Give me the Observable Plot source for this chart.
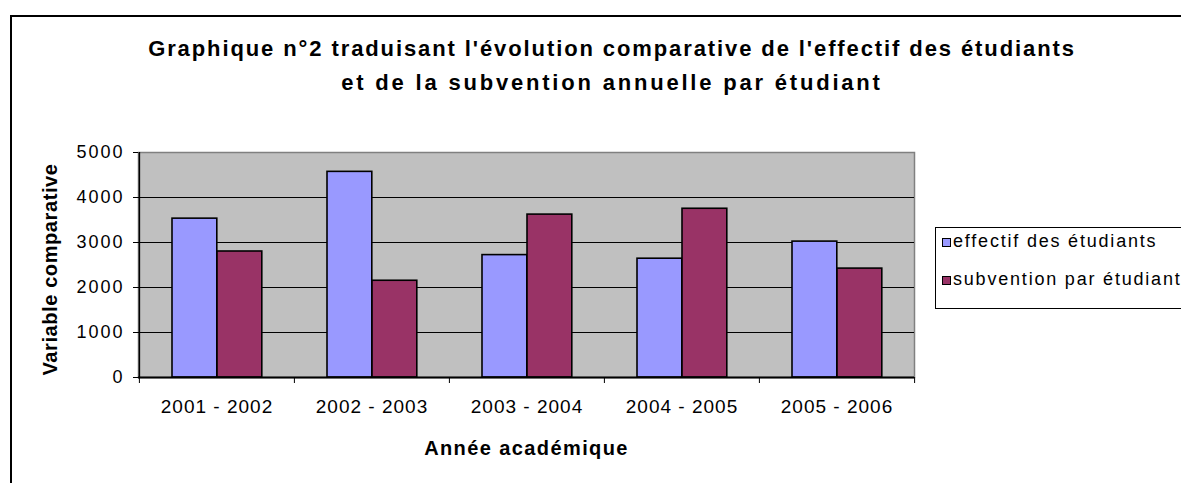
<!DOCTYPE html>
<html>
<head>
<meta charset="utf-8">
<script src="https://cdn.jsdelivr.net/npm/d3@7"></script>
<script src="https://cdn.jsdelivr.net/npm/@observablehq/plot@0.6"></script>
<style>
  html, body { margin: 0; padding: 0; background: #fff; }
  #wrap { position: relative; width: 1181px; height: 483px; overflow: hidden; font-family: "Liberation Sans", Arial, sans-serif; }
  #border { position: absolute; left: 10px; top: 15px; width: 1300px; height: 600px; border: 2px solid #000; box-sizing: border-box; }
  #title { position: absolute; left: 0; top: 32px; width: 1224px; text-align: center; font-weight: bold; font-size: 22px; line-height: 34px; color: #000; }
  #title div:nth-child(1) { letter-spacing: 1.9px; }
  #title div:nth-child(2) { letter-spacing: 2.8px; }
  #chart { position: absolute; left: 0; top: 110px; }
  #legend { position: absolute; left: 935px; top: 227px; width: 300px; height: 82px; border: 1px solid #000; box-sizing: border-box; background: #fff; }
  .item { position: absolute; left: 6px; font-size: 18px; letter-spacing: 1.8px; white-space: nowrap; color: #000; }
  .sw { display: inline-block; width: 7px; height: 7px; border: 1px solid #000; margin-right: 2px; }
  .ch [aria-label="y-axis tick label"] text { letter-spacing: 2px; }
  .ch [aria-label="x-axis tick label"] text { letter-spacing: 1px; }
</style>
</head>
<body>
<div id="wrap">
  <div id="border"></div>
  <div id="title"></div>
  <div id="chart"></div>
  <div id="legend"></div>
</div>
<script>
const titleLines = ["Graphique n°2 traduisant l'évolution comparative de l'effectif des étudiants", "et de la subvention annuelle par étudiant"];
const years = ["2001 - 2002", "2002 - 2003", "2003 - 2004", "2004 - 2005", "2005 - 2006"];
const effectif = [3530, 4570, 2720, 2640, 3020];
const subvention = [2800, 2150, 3620, 3750, 2420];
const yTicks = [0, 1000, 2000, 3000, 4000, 5000];
const seriesNames = ["effectif des étudiants", "subvention par étudiant"];
const colors = ["#9999FF", "#993366"];
const xLabel = "Année académique";
const yLabel = "Variable comparative";

const titleEl = document.getElementById("title");
titleLines.forEach(line => {
  const d = document.createElement("div");
  d.textContent = line;
  titleEl.appendChild(d);
});

const rows = years.map((y, i) => ({year: y, effectif: effectif[i], subvention: subvention[i]}));

const W = 1181, H = 373, mL = 138, mR = 267, mT = 42, mB = 106;
const bw = (W - mL - mR) / years.length;

const chart = Plot.plot({
  width: W, height: H,
  marginLeft: mL, marginRight: mR, marginTop: mT, marginBottom: mB,
  className: "ch",
  style: {fontFamily: "'Liberation Sans', Arial, sans-serif", background: "transparent", color: "#000", overflow: "visible"},
  x: {domain: years, padding: 0, axis: null},
  y: {domain: [0, 5000], axis: null},
  marks: [
    Plot.frame({fill: "#C0C0C0", stroke: "#808080", strokeWidth: 1.5}),
    Plot.gridY(yTicks.filter(d => d > 0 && d < 5000), {stroke: "#000", strokeOpacity: 1, strokeWidth: 1}),
    Plot.barY(rows, {x: "year", y: "effectif", fill: colors[0], stroke: "#000", strokeWidth: 1.6, insetLeft: 33, insetRight: bw - 78}),
    Plot.barY(rows, {x: "year", y: "subvention", fill: colors[1], stroke: "#000", strokeWidth: 1.6, insetLeft: 78, insetRight: bw - 123}),
    Plot.ruleY([0], {stroke: "#000", strokeWidth: 2}),
    Plot.ruleX([years[0]], {dx: -bw / 2, stroke: "#000", strokeWidth: 1.5}),
    Plot.axisY(yTicks, {anchor: "left", label: null, tickSize: 5, tickPadding: 9, fontSize: 18, tickFormat: d => String(d)}),
    Plot.axisX(years, {anchor: "bottom", label: null, tickSize: 6, tickFormat: () => "", dx: -bw / 2}),
    Plot.axisX([years[years.length - 1]], {anchor: "bottom", label: null, tickSize: 6, tickFormat: () => "", dx: bw / 2}),
    Plot.axisX(years, {anchor: "bottom", label: null, tickSize: 0, tickPadding: 22, fontSize: 19}),
    Plot.text([xLabel], {frameAnchor: "bottom", textAnchor: "middle", lineAnchor: "middle", dy: 71, fontSize: 20, fontWeight: "bold"}),
    Plot.text([yLabel], {frameAnchor: "left", textAnchor: "middle", lineAnchor: "middle", dx: -88, dy: 4.5, rotate: -90, fontSize: 20, fontWeight: "bold"})
  ]
});
document.getElementById("chart").appendChild(chart);
d3.select(chart).selectAll("text").each(function() {
  const t = this.textContent;
  if (t === xLabel) this.style.letterSpacing = "1.4px";
  if (t === yLabel) this.style.letterSpacing = "0.6px";
});

const legend = document.getElementById("legend");
seriesNames.forEach((name, i) => {
  const div = document.createElement("div");
  div.className = "item";
  div.style.top = (i === 0 ? 3 : 41) + "px";
  div.innerHTML = `<span class="sw" style="background:${colors[i]}"></span>${name}`;
  legend.appendChild(div);
});
</script>
</body>
</html>
